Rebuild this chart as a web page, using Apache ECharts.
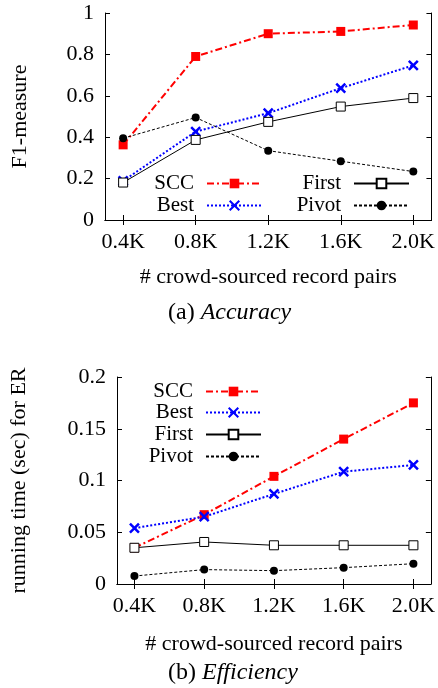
<!DOCTYPE html>
<html>
<head>
<meta charset="utf-8">
<script src="https://cdn.jsdelivr.net/npm/echarts@6/dist/echarts.min.js"></script>
<style>
  html, body { margin: 0; padding: 0; background: #fff; }
  #main { width: 438px; height: 688px; }
</style>
</head>
<body>
<div id="main"></div>
<script>
// x positions (thousands of record pairs)
var xValues = [0.4, 0.8, 1.2, 1.6, 2.0];

// (a) accuracy, F1-measure
var accSCC = [0.363, 0.790, 0.900, 0.911, 0.942];
var accBest = [0.189, 0.427, 0.516, 0.637, 0.747];
var accFirst = [0.181, 0.387, 0.474, 0.548, 0.589];
var accPivot = [0.395, 0.495, 0.335, 0.284, 0.234];

// (b) efficiency, running time (sec)
var effSCC = [0.035, 0.067, 0.104, 0.140, 0.175];
var effBest = [0.054, 0.065, 0.087, 0.1085, 0.115];
var effFirst = [0.035, 0.0406, 0.0374, 0.0374, 0.0374];
var effPivot = [0.0077, 0.0139, 0.0129, 0.0158, 0.0196];

var FONT = '"Liberation Serif", "Times New Roman", serif';
var X_MARK = 'path://M0,0L10,10M10,0L0,10';

function pairs(arr) {
  return xValues.map(function (x, i) { return [x, arr[i]]; });
}

// 每个系列的样式
var styles = {
  SCC:   { color: '#ff0000', type: [7, 3, 2, 3], width: 2, symbol: 'rect', size: 9, fill: '#ff0000', border: 0 },
  Best:  { color: '#0000ff', type: [2, 2], width: 2, symbol: X_MARK, size: 9, fill: 'none', border: 2.5 },
  First: { color: '#000000', type: 'solid', width: 1, symbol: 'rect', size: 9, fill: '#ffffff', border: 1 },
  Pivot: { color: '#000000', type: [3, 2], width: 1, symbol: 'circle', size: 8, fill: '#000000', border: 0 }
};

function makeSeries(name, arr, idx) {
  var s = styles[name];
  return {
    name: name,
    type: 'line',
    xAxisIndex: idx * 2,
    yAxisIndex: idx * 2,
    data: pairs(arr),
    symbol: s.symbol,
    symbolSize: s.size,
    showAllSymbol: true,
    animation: false,
    lineStyle: { color: s.color, type: s.type, width: s.width },
    itemStyle: { color: s.fill, borderColor: s.color, borderWidth: s.border },
    emphasis: { disabled: true }
  };
}

// 图例：文字在左，线条样例在右，用 right 对齐
function legendFor(name, right, top) {
  return {
    data: [name],
    right: right,
    top: top,
    padding: 0,
    align: 'right',
    itemWidth: 55,
    itemHeight: 12,
    selectedMode: false,
    textStyle: { fontFamily: FONT, fontSize: 21, color: '#000', padding: [0, 8, 0, 0] }
  };
}

function xAxes(grid, gap) {
  return [
    {
      type: 'value', gridIndex: grid, position: 'bottom', min: 0.3, max: 2.1,
      name: '# crowd-sourced record pairs', nameLocation: 'middle', nameGap: gap,
      nameTextStyle: { fontFamily: FONT, fontSize: 22, color: '#000' },
      axisLine: { lineStyle: { color: '#000', width: 1 } },
      axisTick: { inside: true, length: 5, customValues: xValues, lineStyle: { color: '#000' } },
      axisLabel: {
        customValues: xValues,
        fontFamily: FONT, fontSize: 22, color: '#000', margin: 11,
        formatter: function (v) { return v.toFixed(1) + 'K'; }
      },
      splitLine: { show: false }
    },
    {
      type: 'value', gridIndex: grid, position: 'top', min: 0.3, max: 2.1,
      axisLine: { lineStyle: { color: '#000', width: 1 } },
      axisTick: { inside: true, length: 5, customValues: xValues, lineStyle: { color: '#000' } },
      axisLabel: { show: false },
      splitLine: { show: false }
    }
  ];
}

function yAxes(grid, max, interval, name, gap) {
  return [
    {
      type: 'value', gridIndex: grid, position: 'left', min: 0, max: max, interval: interval,
      name: name, nameLocation: 'middle', nameGap: gap,
      nameTextStyle: { fontFamily: FONT, fontSize: 22, color: '#000' },
      axisLine: { show: true, lineStyle: { color: '#000', width: 1 } },
      axisTick: { show: true, inside: true, length: 5, lineStyle: { color: '#000' } },
      axisLabel: {
        fontFamily: FONT, fontSize: 22, color: '#000', margin: 11,
        formatter: function (v) { return String(+v.toFixed(3)); }
      },
      splitLine: { show: false }
    },
    {
      type: 'value', gridIndex: grid, position: 'right', min: 0, max: max, interval: interval,
      axisLine: { show: true, lineStyle: { color: '#000', width: 1 } },
      axisTick: { show: true, inside: true, length: 5, lineStyle: { color: '#000' } },
      axisLabel: { show: false },
      splitLine: { show: false }
    }
  ];
}

function subTitle(label, word, top) {
  return {
    text: label + ' {i|' + word + '}', left: 168, top: top, padding: 0,
    textStyle: {
      fontFamily: FONT, fontSize: 24, fontWeight: 'normal', color: '#000',
      rich: { i: { fontFamily: FONT, fontSize: 24, fontStyle: 'italic', color: '#000' } }
    }
  };
}

var chart = echarts.init(document.getElementById('main'));
var option = {
  backgroundColor: '#fff',
  animation: false,
  title: [
    subTitle('(a)', 'Accuracy', 301),
    subTitle('(b)', 'Efficiency', 661)
  ],
  grid: [
    { left: 105, top: 13, width: 330, height: 207 },
    { left: 115, top: 377, width: 317, height: 207 }
  ],
  legend: [
    legendFor('SCC', 175, 173),
    legendFor('Best', 175, 195),
    legendFor('First', 28, 173),
    legendFor('Pivot', 28, 195),
    legendFor('SCC', 176, 381),
    legendFor('Best', 176, 402),
    legendFor('First', 176, 424),
    legendFor('Pivot', 176, 446)
  ],
  xAxis: xAxes(0, 46).concat(xAxes(1, 49)),
  yAxis: yAxes(0, 1, 0.2, 'F1-measure', 74).concat(yAxes(1, 0.2, 0.05, 'running time (sec) for ER', 87)),
  series: [
    makeSeries('SCC', accSCC, 0),
    makeSeries('Best', accBest, 0),
    makeSeries('First', accFirst, 0),
    makeSeries('Pivot', accPivot, 0),
    makeSeries('SCC', effSCC, 1),
    makeSeries('Best', effBest, 1),
    makeSeries('First', effFirst, 1),
    makeSeries('Pivot', effPivot, 1)
  ]
};
chart.setOption(option);
</script>
</body>
</html>
